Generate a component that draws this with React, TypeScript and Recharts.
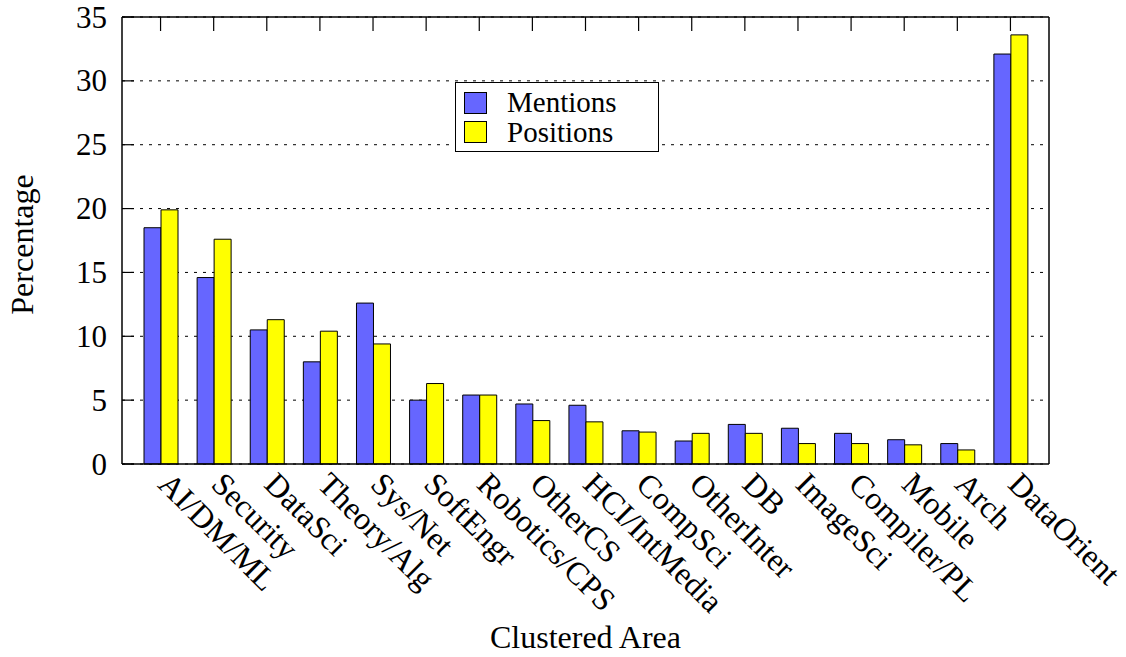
import { BarChart, Bar, XAxis, YAxis, CartesianGrid, Legend } from "recharts";

// Share of mentions vs. open positions per clustered research area (%)
const areas = [
  "AI/DM/ML",
  "Security",
  "DataSci",
  "Theory/Alg",
  "Sys/Net",
  "SoftEngr",
  "Robotics/CPS",
  "OtherCS",
  "HCI/IntMedia",
  "CompSci",
  "OtherInter",
  "DB",
  "ImageSci",
  "Compiler/PL",
  "Mobile",
  "Arch",
  "DataOrient",
];
const mentions = [18.5, 14.6, 10.5, 8.0, 12.6, 5.0, 5.4, 4.7, 4.6, 2.6, 1.8, 3.1, 2.8, 2.4, 1.9, 1.6, 32.1];
const positions = [19.9, 17.6, 11.3, 10.4, 9.4, 6.3, 5.4, 3.4, 3.3, 2.5, 2.4, 2.4, 1.6, 1.6, 1.5, 1.1, 33.6];
const yTicks = [0, 5, 10, 15, 20, 25, 30, 35];

const data = areas.map((area, i) => ({
  area,
  mentions: mentions[i],
  positions: positions[i],
}));

const FONT = '"Liberation Serif", "Times New Roman", Times, serif';
const AXIS = { stroke: "#000", strokeWidth: 1.5 };
const TIC = { stroke: "#000", strokeWidth: 1.2 };

// rotated category label, hanging below the axis
function AreaTick({ x, y, payload }: any) {
  const tx = x - 4;
  const ty = y + 22;
  return (
    <text
      x={tx}
      y={ty}
      transform={`rotate(45 ${tx} ${ty})`}
      textAnchor="start"
      fontFamily={FONT}
      fontSize={32}
      fill="#000"
    >
      {payload.value}
    </text>
  );
}

// left axis: number outside, tic mark pointing into the plot
function ValueTick({ x, y, payload }: any) {
  return (
    <g>
      <line x1={x + 15} x2={x + 27} y1={y} y2={y} {...TIC} />
      <text
        x={x}
        y={y}
        textAnchor="end"
        dominantBaseline="central"
        fontFamily={FONT}
        fontSize={31}
        fill="#000"
      >
        {payload.value}
      </text>
    </g>
  );
}

// mirrored tics on the right border
function RightTic({ x, y }: any) {
  return <line x1={x - 12} x2={x} y1={y} y2={y} {...TIC} />;
}

// mirrored tics on the top border
function TopTic({ x, y }: any) {
  return <line x1={x} x2={x} y1={y} y2={y + 14} {...TIC} />;
}

function LegendBox({ payload }: any) {
  return (
    <div
      style={{
        width: 204,
        height: 70,
        paddingTop: 5,
        boxSizing: "border-box",
        border: "1px solid #000",
        background: "#fff",
        fontFamily: FONT,
        fontSize: 29,
        color: "#000",
      }}
    >
      {(payload || []).map((entry: any) => (
        <div key={entry.value} style={{ display: "flex", alignItems: "center", height: 29.5 }}>
          <span
            style={{
              display: "inline-block",
              width: 21,
              height: 20,
              marginLeft: 8,
              marginRight: 20,
              background: entry.color,
              border: "1px solid #000",
            }}
          />
          <span style={{ lineHeight: 1 }}>{entry.value}</span>
        </div>
      ))}
    </div>
  );
}

export default function App() {
  return (
    <div style={{ position: "absolute", left: 0, top: 0, background: "#fff" }}>
      <BarChart
        width={1126}
        height={657}
        data={data}
        margin={{ top: 16, right: 76, bottom: 0, left: 0 }}
        barGap={0}
        barSize={17}
      >
        <CartesianGrid
          xAxisId="b"
          yAxisId="l"
          vertical={false}
          stroke="#000"
          strokeDasharray="3 6"
        />
        <XAxis
          xAxisId="b"
          dataKey="area"
          height={193}
          interval={0}
          padding={{ left: 12, right: 12 }}
          axisLine={AXIS}
          tickLine={false}
          tickSize={0}
          tickMargin={0}
          tick={<AreaTick />}
          label={{
            content: ({ viewBox }: any) => (
              <text
                x={viewBox.x + viewBox.width / 2}
                y={viewBox.y + 184}
                textAnchor="middle"
                fontFamily={FONT}
                fontSize={32}
                fill="#000"
              >
                Clustered Area
              </text>
            ),
          }}
        />
        <XAxis
          xAxisId="t"
          orientation="top"
          dataKey="area"
          height={1}
          interval={0}
          padding={{ left: 12, right: 12 }}
          axisLine={AXIS}
          tickLine={false}
          tickSize={0}
          tickMargin={0}
          tick={<TopTic />}
        />
        <YAxis
          yAxisId="l"
          width={122}
          domain={[0, 35]}
          ticks={yTicks}
          interval={0}
          axisLine={AXIS}
          tickLine={false}
          tickSize={0}
          tickMargin={15}
          tick={<ValueTick />}
          label={{
            content: ({ viewBox }: any) => {
              const cx = 22;
              const cy = viewBox.y + viewBox.height / 2 + 4;
              return (
                <text
                  x={cx}
                  y={cy}
                  transform={`rotate(-90 ${cx} ${cy})`}
                  textAnchor="middle"
                  dominantBaseline="central"
                  fontFamily={FONT}
                  fontSize={32}
                  fill="#000"
                >
                  Percentage
                </text>
              );
            },
          }}
        />
        <YAxis
          yAxisId="r"
          orientation="right"
          width={1}
          domain={[0, 35]}
          ticks={yTicks}
          interval={0}
          axisLine={AXIS}
          tickLine={false}
          tickSize={0}
          tickMargin={0}
          tick={<RightTic />}
        />
        <Legend
          layout="vertical"
          align="center"
          verticalAlign="middle"
          content={<LegendBox />}
          wrapperStyle={{ left: 455, top: 82, width: "auto", height: "auto" }}
        />
        <Bar
          xAxisId="b"
          yAxisId="l"
          dataKey="mentions"
          name="Mentions"
          fill="#6666FF"
          stroke="#000"
          strokeWidth={1}
          isAnimationActive={false}
        />
        <Bar
          xAxisId="b"
          yAxisId="l"
          dataKey="positions"
          name="Positions"
          fill="#FFFF00"
          stroke="#000"
          strokeWidth={1}
          isAnimationActive={false}
        />
      </BarChart>
    </div>
  );
}
